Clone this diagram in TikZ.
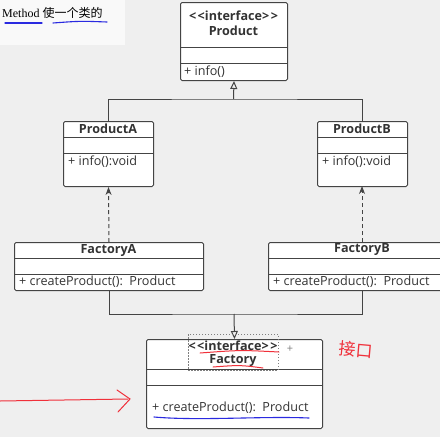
\documentclass[tikz,border=0pt]{standalone}
\usepackage{fontspec}
\setmainfont{Open Sans}
\newfontfamily\serifcn{Liberation Serif}
\newfontfamily\cjk{Noto Sans CJK SC}
\usetikzlibrary{arrows.meta}
\definecolor{bggray}{HTML}{EFEFEF}
\definecolor{lineg}{HTML}{444444}
\definecolor{penred}{HTML}{F0303A}
\definecolor{penblue}{HTML}{2A2AE0}
\newcommand{\stereo}[1]{{<}\kern1.5pt{<}#1{>}\kern1.5pt{>}}
\tikzset{
  umlbox/.style={draw=lineg, line width=1pt, fill=white, rounded corners=1.5pt, inner sep=0pt, anchor=north west},
  divider/.style={draw=lineg, line width=1pt},
  conn/.style={draw=lineg, line width=1pt},
  title/.style={font=\fontsize{12.6}{14}\selectfont\bfseries, text=black!80, inner sep=0pt},
  member/.style={font=\fontsize{12.6}{14}\selectfont, text=black!80, inner sep=0pt, anchor=west},
  realize/.style={conn, -{Triangle[open, length=8pt, width=7pt]}},
  depend/.style={conn, dashed, dash pattern=on 4pt off 3pt, -{Stealth[length=8pt, width=6pt]}},
  redpen/.style={draw=penred, line width=1pt, line cap=round},
  bluepen/.style={draw=penblue, line width=1.1pt, line cap=round},
}
\begin{document}
\begin{tikzpicture}[x=1pt, y=-1pt]
\useasboundingbox (0,0) rectangle (440,437);
\clip (0,0) rectangle (440,437);
\fill[bggray] (0,0) rectangle (440,437);
\fill[white!60!bggray] (0,0) rectangle (125,45);

% top-left note
\node[anchor=base west, inner sep=0pt, font=\fontsize{12}{14}\selectfont] (note) at (2,17) {\serifcn Method \cjk 使一个类的};
\draw[bluepen] (5,23) -- (42,23);
\draw[bluepen] (53,23) .. controls (80,21) .. (107,22);

% Product
\node[umlbox, minimum width=107pt, minimum height=78pt] (product) at (180,2) {};
\draw[divider] (180,47) -- (287,47);
\draw[divider] (180,63) -- (287,63);
\node[title] (productT1) at (233.5,16) {\stereo{interface}};
\node[title] (productT2) at (233.5,31) {Product};
\node[member] (productM) at (184,71.5) {+ info()};

% ProductA
\node[umlbox, minimum width=90pt, minimum height=65pt] (productA) at (63,121) {};
\draw[divider] (63,137) -- (153,137);
\draw[divider] (63,153) -- (153,153);
\node[title] (productAT) at (108,129) {ProductA};
\node[member] (productAM) at (68,162) {+ info():void};

% ProductB
\node[umlbox, minimum width=90pt, minimum height=65pt] (productB) at (317,121) {};
\draw[divider] (317,137) -- (407,137);
\draw[divider] (317,153) -- (407,153);
\node[title] (productBT) at (362,129) {ProductB};
\node[member] (productBM) at (322,162) {+ info():void};

% FactoryA
\node[umlbox, minimum width=189pt, minimum height=48pt] (factoryA) at (14,242) {};
\draw[divider] (14,258) -- (203,258);
\draw[divider] (14,274) -- (203,274);
\node[title] (factoryAT) at (108.5,250) {FactoryA};
\node[member] (factoryAM) at (19,282) {+ createProduct():\ \ Product};

% FactoryB
\node[umlbox, minimum width=188pt, minimum height=48pt] (factoryB) at (268,242) {};
\draw[divider] (268,258) -- (456,258);
\draw[divider] (268,274) -- (456,274);
\node[title] (factoryBT) at (362,250) {FactoryB};
\node[member] (factoryBM) at (273,282) {+ createProduct():\ \ Product};

% Factory
\node[umlbox, minimum width=176pt, minimum height=89pt] (factory) at (146,339) {};
\draw[divider] (146,369) -- (322,369);
\draw[divider] (146,385) -- (322,385);
\node[title] (factoryT1) at (233,346) {\stereo{interface}};
\node[title] (factoryT2) at (233,361) {Factory};
\node[member] (factoryM) at (152,408) {+ createProduct():\ \ Product};

% connectors
\coordinate (joinP) at (233.5,99);
\coordinate (joinF) at (234,314);
\draw[conn] (productA.north) |- (joinP) -| (productB.north);
\draw[realize] (joinP) -- (product.south);
\draw[depend] (factoryA.north) -- (productA.south);
\draw[depend] (362,242) -- (362,186);
\draw[conn] (factoryA.south) |- (joinF) -| (362,290);
\draw[realize] (joinF) -- (factory.north);

% selection rectangle and small plus
\draw[gray, line width=0.5pt, dash pattern=on 1.5pt off 1.5pt] (188,334) rectangle (278,370);
\node[inner sep=0pt, text=gray, font=\fontsize{11}{12}\selectfont] (plus) at (290,349) {+};

% red annotations
\draw[redpen] (200,353) .. controls (240,350) .. (279,352);
\draw[redpen] (213,367) .. controls (240,365) .. (263,368);
\node[inner sep=0pt, text=penred, rotate=-5, font=\fontsize{17}{18}\selectfont] (hand) at (356,350) {\cjk 接口};
\draw[redpen] (0,401) -- (128,399);
\draw[redpen] (117,390) -- (130,399) -- (118,412);

% blue underline
\draw[bluepen] (154,417) .. controls (200,421) and (260,416) .. (309,418);
\end{tikzpicture}
\end{document}
